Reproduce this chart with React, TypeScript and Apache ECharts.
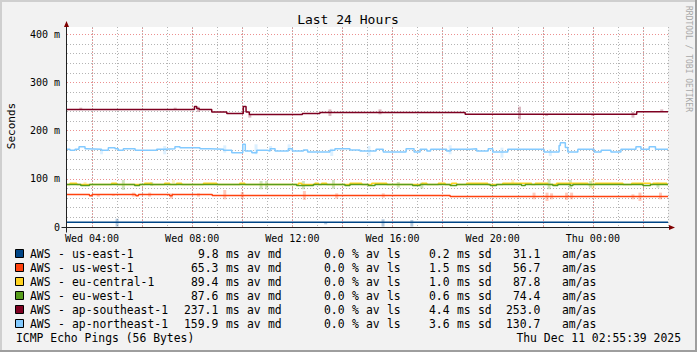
import React, { useEffect, useRef } from "react";
import * as echarts from "echarts";

const W = 697;
const H = 352;

// ---- axis ticks / labels ----
const xTickHours = [1, 5, 9, 13, 17, 21];
const xTickLabels = ["Wed 04:00", "Wed 08:00", "Wed 12:00", "Wed 16:00", "Wed 20:00", "Thu 00:00"];
const majorHours = [1, 3, 5, 7, 9, 11, 13, 15, 17, 19, 21, 23];
const yTickValues = [0, 100, 200, 300, 400];
const yTickLabels = ["0", "100 m", "200 m", "300 m", "400 m"];

// ---- legend ----
const names = [
  "AWS - us-east-1",
  "AWS - us-west-1",
  "AWS - eu-central-1",
  "AWS - eu-west-1",
  "AWS - ap-southeast-1",
  "AWS - ap-northeast-1",
];
const colors = ["#004586", "#ff420e", "#ffd320", "#579d1c", "#7e0021", "#83caff"];
const medians = [9.8, 65.3, 89.4, 87.6, 237.1, 159.9];
const losses = [0.0, 0.0, 0.0, 0.0, 0.0, 0.0];
const sds = [0.2, 1.5, 1.0, 0.6, 4.4, 3.6];
const amas = [31.1, 56.7, 87.8, 74.4, 253.0, 130.7];

// ---- median series (change points: hours since Wed 03:00, ms) ----
const usEastT = [0, 24];
const usEastV = [9.8, 9.8];

const usWestT = [0, 0.9, 1.0, 2.75, 2.85, 4.1, 4.2, 5.8, 15.3, 24];
const usWestV = [67.2, 65, 67.2, 65, 67.2, 65, 67.2, 65.3, 63.5, 63.5];

const euCentralT = [
  0, 0.12, 0.39, 1.78, 1.98, 3.1, 3.38, 3.9, 4.1, 4.38, 4.58, 5.45, 5.98, 6.9, 7.1,
  9.24, 9.37, 9.9, 10.04, 10.17, 10.37, 11.3, 11.77, 12.17, 12.77, 14.17, 14.37,
  14.83, 15.1, 15.36, 15.56, 15.96, 16.8, 17.4, 18.55, 18.7, 19.2, 19.55, 20.8,
  21.1, 22.2, 22.55, 23.3, 23.4, 23.95, 24,
];
const euCentralV = [
  88, 90.7, 88, 90.7, 88, 90.7, 88, 90.7, 88, 90.7, 88, 90.7, 88, 90.7, 88,
  90.7, 88, 90.7, 88, 90.7, 88, 90.7, 88, 90.7, 88, 90.7, 88,
  90.7, 88, 90.7, 88, 90.7, 88, 90.7, 88, 90.7, 88, 90.7, 88,
  90.7, 88, 90.7, 88, 90.7, 88, 88,
];

const euWestT = [
  0, 0.55, 0.9, 2.7, 2.9, 9.17, 9.84, 11.1, 11.3, 12.03, 12.3, 13.8, 14.1, 15.3, 15.56,
  16.9, 17.15, 18.15, 18.3, 19.4, 19.6, 20.1, 20.2, 23.0, 23.3, 24,
];
const euWestV = [
  88, 86, 88, 86, 88, 86, 88, 86, 88, 86, 88, 86, 88, 86, 88,
  86, 88, 86, 88, 86, 88, 86, 88, 86, 88, 88,
];

const apSoutheastT = [0, 5.09, 5.18, 5.28, 5.78, 6.38, 7.04, 7.15, 7.28, 9.4, 10.1, 15.9, 22.75, 24];
const apSoutheastV = [244, 249.8, 246, 244, 238.6, 235.3, 249.8, 238.6, 233.2, 235.3, 237.8, 233.8, 239.4, 239.4];

const apNortheastT = [
  0, 0.12, 0.32, 0.48, 0.72, 0.79, 1.38, 1.65, 1.92, 2.05, 2.25, 2.72, 3.58, 3.91, 4.31,
  4.51, 5.31, 5.71, 6.25, 6.58, 7.02, 7.12, 7.38, 7.58, 8.0, 8.11, 8.31, 8.84, 9.0,
  9.44, 9.61, 10.5, 10.7, 11.3, 11.7, 12.34, 12.63, 13.54, 13.86, 14.1, 14.37, 14.52,
  15.16, 15.31, 16.09, 16.36, 16.82, 17.0, 17.6, 19.05, 19.65, 19.7, 19.9, 20.0, 20.4,
  21.05, 21.33, 21.72, 22.12, 22.72, 22.92, 23.25, 23.5, 24,
];
const apNortheastV = [
  161.2, 159.1, 161.2, 166.7, 162.6, 161.2, 159.1, 164.6, 162.6, 159.1, 162.6, 159.1, 161.2, 162.6, 166.7,
  164.6, 162.6, 161.2, 159.1, 154.3, 171.6, 157.8, 154.3, 159.1, 157.8, 162.6, 157.8, 162.6, 157.8,
  159.8, 155.7, 159.1, 162.6, 159.8, 157.8, 161.2, 155.7, 162.6, 155.7, 161.2, 157.8, 161.2,
  157.8, 161.2, 162.6, 157.8, 162.6, 155.7, 161.2, 155.7, 169, 175, 165, 155.7, 161.2,
  155.7, 159.1, 155.7, 161.2, 166.7, 161.2, 166.7, 161.2, 161.2,
];

const seriesT = [usEastT, usWestT, euCentralT, euWestT, apSoutheastT, apNortheastT];
const seriesV = [usEastV, usWestV, euCentralV, euWestV, apSoutheastV, apNortheastV];

// ---- smoke (faint spread marks): hour, low ms, high ms ----
const usEastSmokeH = [2.0, 10.33, 12.62, 13.77];
const usEastSmokeLo = [0.8, 5.6, 0.8, 0.8];
const usEastSmokeHi = [17.3, 10.4, 16, 14.6];

const usWestSmokeH = [1.25, 1.85, 2.65, 3.3, 4.17, 5.25, 6.3, 7.0, 9.48, 10.77, 12.63, 18.65, 19.17, 19.35, 19.95, 20.15, 22.6, 22.88, 23.7];
const usWestSmokeLo = [63, 64.4, 63, 63, 58.8, 63, 57.4, 58.8, 56, 58.8, 60.9, 57.4, 54, 57.4, 56, 57.4, 57.4, 54, 57.4];
const usWestSmokeHi = [67.8, 67.8, 71.3, 71.3, 69.9, 69.9, 76.8, 72.6, 74.7, 69.9, 69.9, 71.3, 71.3, 69.9, 71.3, 71.3, 67.8, 71.3, 71.3];

const euCentralSmokeH = [0.72, 4.25, 17.8, 21.0];
const euCentralSmokeLo = [89.3, 90.7, 88.6, 78.3];
const euCentralSmokeHi = [93.4, 97.6, 97.6, 100.4];

const euWestSmokeH = [2.25, 3.38, 7.75, 7.97, 9.44, 10.64, 13.23, 14.17, 19.25, 20.1, 20.9, 23.6];
const euWestSmokeLo = [76.8, 85.2, 78.3, 78.3, 78.3, 79.6, 81.7, 79.6, 78.3, 79.6, 81.7, 81.7];
const euWestSmokeHi = [97.6, 93.4, 95.5, 95.5, 95.5, 97.6, 93.4, 92.1, 99, 97.6, 95.5, 92.1];

const apSoutheastSmokeH = [0.55, 4.32, 5.24, 7.3, 10.5, 12.5, 18.07, 19.15, 21.0, 22.6, 23.75];
const apSoutheastSmokeLo = [242.8, 244.2, 238.6, 226.9, 230.4, 233.8, 223.5, 230.4, 230.4, 226.9, 238.6];
const apSoutheastSmokeHi = [247.6, 247.6, 249.7, 233.8, 244.2, 244.2, 249.7, 233.8, 233.8, 238.6, 244.2];

const apNortheastSmokeH = [1.38, 3.9, 6.3, 7.55, 8.13, 8.87, 10.57, 12.06, 15.3, 17.37, 19.3];
const apNortheastSmokeLo = [150.9, 150.9, 154.3, 150.9, 157.8, 157.8, 147.4, 147.4, 150.9, 143.9, 147.4];
const apNortheastSmokeHi = [159.1, 168.1, 169.5, 171.6, 168.1, 171.6, 162.6, 168.1, 169.5, 164.6, 161.2];

const smokeH = [usEastSmokeH, usWestSmokeH, euCentralSmokeH, euWestSmokeH, apSoutheastSmokeH, apNortheastSmokeH];
const smokeLo = [usEastSmokeLo, usWestSmokeLo, euCentralSmokeLo, euWestSmokeLo, apSoutheastSmokeLo, apNortheastSmokeLo];
const smokeHi = [usEastSmokeHi, usWestSmokeHi, euCentralSmokeHi, euWestSmokeHi, apSoutheastSmokeHi, apNortheastSmokeHi];

const titleText = "Last 24 Hours";
const yAxisName = "Seconds";
const watermark = "RRDTOOL / TOBI OETIKER";
const footLeft = "ICMP Echo Pings (56 Bytes)";
const footRight = "Thu Dec 11 02:55:39 2025";

const MONO = '"DejaVu Sans Mono", monospace';

export default function App() {
  const ref = useRef<HTMLDivElement>(null);

  useEffect(() => {
    const el = ref.current;
    if (!el) return;
    const chart = echarts.init(el, null, { renderer: "svg", width: W, height: H });

    const smokeData: number[][] = [];
    smokeH.forEach((hs, si) => {
      hs.forEach((h, j) => smokeData.push([h, smokeLo[si][j], smokeHi[si][j], si]));
    });

    const series: any[] = [
      {
        type: "custom",
        z: 2,
        silent: true,
        data: smokeData,
        encode: { x: 0, y: [1, 2] },
        renderItem: (params: any, api: any) => {
          const h = api.value(0);
          const a = api.coord([h, api.value(1)]);
          const b = api.coord([h, api.value(2)]);
          const c = colors[api.value(3)];
          return {
            type: "rect",
            shape: { x: a[0] - 1.5, y: b[1], width: 3, height: Math.max(1, a[1] - b[1]) },
            style: { fill: c, opacity: 0.28 },
          };
        },
      },
    ];

    names.forEach((n, i) => {
      series.push({
        name: n,
        type: "line",
        step: "end",
        symbol: "none",
        z: 3,
        silent: true,
        data: seriesT[i].map((t, j) => [t, seriesV[i][j]]),
        lineStyle: { color: colors[i], width: 1.5 },
        itemStyle: { color: colors[i] },
        emphasis: { disabled: true },
      });
    });
    series[1].markLine = {
      z: 1,
      silent: true,
      symbol: ["none", "none"],
      label: { show: false },
      lineStyle: { color: "#ec9090", type: [1, 2], width: 1 },
      emphasis: { disabled: true },
      data: majorHours.map((h) => ({ xAxis: h })),
    };

    const option: any = {
      animation: false,
      backgroundColor: "#f2f2f2",
      grid: {
        show: true,
        left: 67,
        top: 27,
        width: 601,
        height: 200,
        backgroundColor: "#ffffff",
        borderWidth: 0,
      },
      xAxis: [
        {
          type: "value",
          min: 0,
          max: 24,
          interval: 1,
          axisLine: { show: false },
          axisTick: { show: false },
          axisLabel: {
            margin: 6,
            fontFamily: MONO,
            fontSize: 10,
            color: "#000",
            formatter: (v: number) => {
              const k = xTickHours.indexOf(Math.round(v));
              return k >= 0 && Math.abs(v - Math.round(v)) < 1e-6 ? xTickLabels[k] : "";
            },
          },
          splitLine: {
            show: true,
            showMinLine: false,
            lineStyle: { color: "#b4b4b4", type: [1, 2], width: 1 },
          },
        },
      ],
      yAxis: [
        {
          type: "value",
          min: 0,
          max: 415,
          interval: 20,
          axisLine: { show: false },
          axisTick: { show: false },
          axisLabel: {
            margin: 7,
            fontFamily: MONO,
            fontSize: 10,
            color: "#000",
            formatter: (v: number) => {
              const k = yTickValues.indexOf(Math.round(v));
              return k >= 0 ? yTickLabels[k] : "";
            },
          },
          splitLine: {
            show: true,
            showMinLine: false,
            showMaxLine: false,
            lineStyle: { color: "#b4b4b4", type: [1, 2], width: 1 },
          },
        },
        {
          type: "value",
          min: 0,
          max: 415,
          interval: 100,
          position: "left",
          axisLine: { show: false },
          axisTick: { show: false },
          axisLabel: { show: false },
          splitLine: {
            show: true,
            showMinLine: false,
            showMaxLine: false,
            lineStyle: { color: "#ec9090", type: [1, 2], width: 1 },
          },
        },
      ],
      series,
    };
    chart.setOption(option);

    const p0 = chart.convertToPixel({ gridIndex: 0 } as any, [0, 0]) as number[];
    const p1 = chart.convertToPixel({ gridIndex: 0 } as any, [24, 415]) as number[];
    const ax = Math.round(p0[0]) - 0.5;
    const ay = Math.round(p0[1]) + 0.5;
    const right = p1[0];
    const top = p1[1];

    const g: any[] = [];
    // frame
    g.push({ type: "rect", shape: { x: 0, y: 0, width: W, height: 2 }, style: { fill: "#cfcfcf" }, silent: true });
    g.push({ type: "rect", shape: { x: 0, y: 0, width: 2, height: H }, style: { fill: "#cfcfcf" }, silent: true });
    g.push({ type: "rect", shape: { x: 0, y: H - 2, width: W, height: 2 }, style: { fill: "#9e9e9e" }, silent: true });
    g.push({ type: "rect", shape: { x: W - 2, y: 0, width: 2, height: H }, style: { fill: "#9e9e9e" }, silent: true });

    // title
    g.push({
      type: "text", x: 348, y: 19, silent: true,
      style: { text: titleText, fill: "#000", fontSize: 13, fontFamily: MONO, align: "center", verticalAlign: "middle" },
    });
    // y name
    g.push({
      type: "text", x: 11, y: 126, rotation: Math.PI / 2, silent: true,
      style: { text: yAxisName, fill: "#000", fontSize: 11, fontFamily: MONO, align: "center", verticalAlign: "middle" },
    });
    // watermark
    g.push({
      type: "text", x: 688, y: 59, rotation: -Math.PI / 2, silent: true,
      style: { text: watermark, fill: "#a8a8a8", fontSize: 8, fontFamily: MONO, align: "center", verticalAlign: "middle" },
    });

    // axes
    g.push({ type: "line", z: 10, silent: true, shape: { x1: ax - 5, y1: ay, x2: right + 2, y2: ay }, style: { stroke: "#212121", lineWidth: 1 } });
    g.push({ type: "line", z: 10, silent: true, shape: { x1: ax, y1: ay + 5, x2: ax, y2: top - 2 }, style: { stroke: "#212121", lineWidth: 1 } });
    g.push({
      type: "polygon", z: 11, silent: true,
      shape: { points: [[ax - 2.5, top], [ax + 2.5, top], [ax, top - 6]] },
      style: { fill: "#800000" },
    });
    g.push({
      type: "polygon", z: 11, silent: true,
      shape: { points: [[right + 1, ay - 2.5], [right + 1, ay + 2.5], [right + 7, ay]] },
      style: { fill: "#800000" },
    });

    // legend
    const LX = 30;
    const CW = 7;
    const LY = 254.3;
    const LH = 14;
    const fmt = (v: number) => v.toFixed(1);
    names.forEach((n, i) => {
      const y = LY + i * LH;
      g.push({
        type: "rect", silent: true,
        shape: { x: 15.5, y: Math.round(y) - 4.5, width: 8, height: 8 },
        style: { fill: colors[i], stroke: "#000", lineWidth: 1 },
      });
      const s =
        n.padEnd(20) +
        fmt(medians[i]).padStart(7) + " ms av md" +
        fmt(losses[i]).padStart(9) + " % av ls" +
        fmt(sds[i]).padStart(7) + " ms sd" +
        fmt(amas[i]).padStart(7) + "   am/as";
      const re = /\S+/g;
      let m: RegExpExecArray | null;
      while ((m = re.exec(s))) {
        g.push({
          type: "text", silent: true, x: LX + m.index * CW, y,
          style: { text: m[0], fill: "#000", fontSize: 11.4, fontFamily: MONO, align: "left", verticalAlign: "middle" },
        });
      }
    });
    const fy = LY + 6 * LH;
    g.push({
      type: "text", silent: true, x: 16, y: fy,
      style: { text: footLeft, fill: "#000", fontSize: 11.4, fontFamily: MONO, align: "left", verticalAlign: "middle" },
    });
    g.push({
      type: "text", silent: true, x: 681, y: fy,
      style: { text: footRight, fill: "#000", fontSize: 11.4, fontFamily: MONO, align: "right", verticalAlign: "middle" },
    });

    chart.setOption({ graphic: g });

    return () => {
      chart.dispose();
    };
  }, []);

  return (
    <div
      ref={ref}
      style={{ position: "absolute", left: 0, top: 0, width: W, height: H }}
    />
  );
}
